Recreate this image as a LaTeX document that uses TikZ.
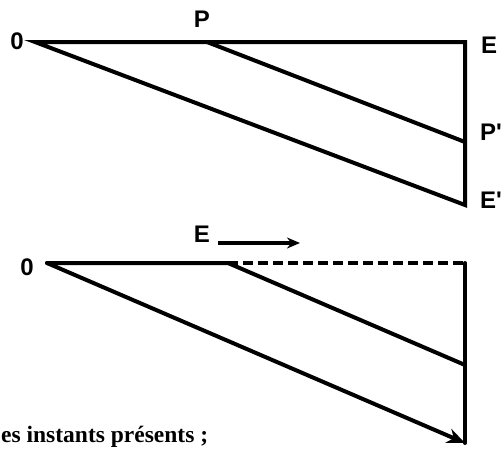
\documentclass[tikz,border=0pt]{standalone}
\usepackage{fontspec}
\usepackage{tikz}
\usetikzlibrary{arrows.meta}
\newfontfamily\labelfont{Liberation Sans}
\newfontfamily\captionfont{Liberation Serif}
\tikzset{
  seg/.style={line width=4pt,line cap=round,line join=miter},
  lbl/.style={font=\labelfont\bfseries\fontsize{24}{24}\selectfont,inner sep=0pt},
}

\begin{document}
\begin{tikzpicture}[x=1pt,y=-1pt]
      \useasboundingbox (0,0) rectangle (504,448);
      % upper figure
      \coordinate (O1) at (35,42);
      \coordinate (P1) at (207,42);
      \coordinate (E1) at (465,42);
      \coordinate (Pp1) at (465,142);
      \coordinate (Ep1) at (465,205);
      \draw[seg] (O1) -- (E1) -- (Ep1) -- cycle;
      \draw[seg] (P1) -- (Pp1);
      \node[lbl] (lO1) at (17,41) {0};
      \node[lbl] (lP1) at (202,19) {P};
      \node[lbl,anchor=west] (lE1) at (481,45) {E};
      \node[lbl,anchor=west] (lPp1) at (480,132) {P'};
      \node[lbl,anchor=west] (lEp1) at (480,200) {E'};
      % lower figure
      \coordinate (O2) at (47,263);
      \coordinate (P2) at (228,263);
      \coordinate (E2) at (465,263);
      \coordinate (Pp2) at (465,365);
      \coordinate (Ep2) at (465,443);
      \draw[seg] (O2) -- (P2) -- (Pp2);
      \draw[seg,line cap=butt,dash pattern=on 10pt off 5pt] (P2) -- (E2);
      \draw[seg] (E2) -- (Ep2);
      \draw[seg,-{Stealth[length=18pt,width=15pt]}] (O2) -- (Ep2);
      \node[lbl] (lO2) at (27,267) {0};
      \node[lbl] (lE2) at (202,234) {E};
      \coordinate (a1) at (218,243);
      \coordinate (a2) at (300,243);
      \draw[line width=3.2pt,-{Stealth[length=13pt,width=11pt]}] (a1) -- (a2);
      \node[font=\captionfont\bfseries\fontsize{23.5}{23.5}\selectfont,anchor=base west,inner sep=0pt] (txt) at (1,442) {es instants présents ;};
    \end{tikzpicture}
\end{document}
